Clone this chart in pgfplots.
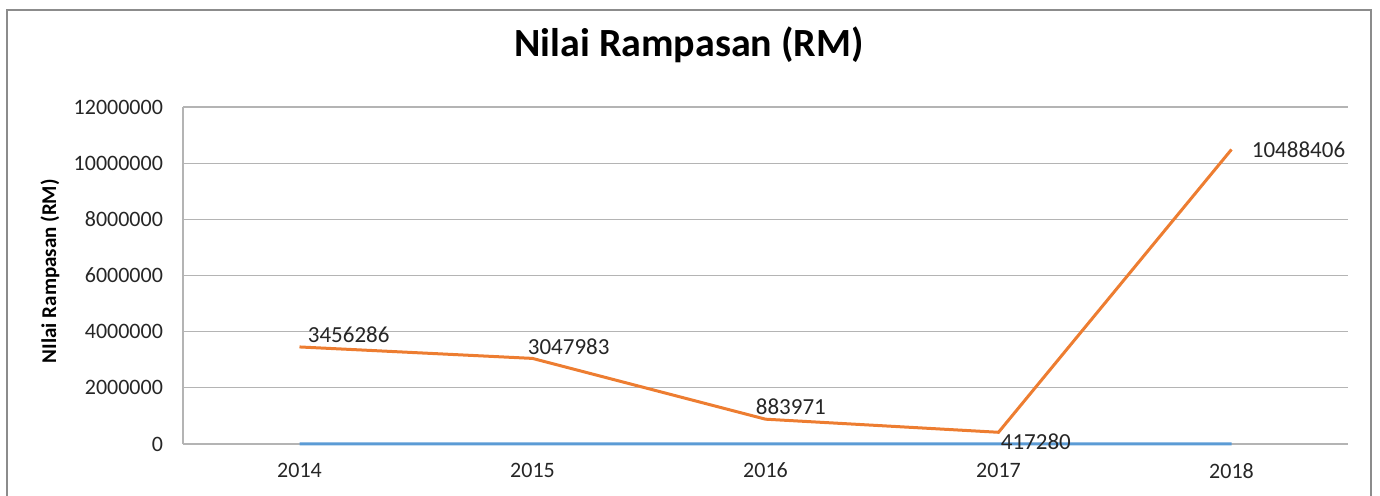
\documentclass[border=0pt]{standalone}
\usepackage{fontspec}
\setmainfont{Carlito}
\usepackage{pgfplots}
\pgfplotsset{compat=1.18}
\definecolor{xlorange}{HTML}{ED7D31}
\definecolor{xlblue}{HTML}{5B9BD5}
\definecolor{gridc}{HTML}{B4B4B4}
\definecolor{borderc}{HTML}{8C8C8C}
\begin{document}
\begin{tikzpicture}[x=1pt,y=1pt]
\useasboundingbox (0,0) rectangle (690,247.5);
\draw[borderc, line width=0.6pt] (3.5,-20) rectangle (685.5,242.5);
\begin{axis}[
  at={(91.5pt,25.5pt)}, anchor=south west,
  width=582.5pt, height=168.5pt, scale only axis,
  xmin=-0.5, xmax=4.5, ymin=0, ymax=12000000,
  xtick={0,1,2,3,4}, xticklabels={2014,2015,2016,2017,2018},
  ytick={0,2000000,4000000,6000000,8000000,10000000,12000000},
  yticklabels={0,2000000,4000000,6000000,8000000,10000000,12000000},
  scaled y ticks=false,
  axis x line*=bottom, axis y line*=left,
  axis line style={gridc, line width=0.6pt},
  x axis line style={draw=none},
  major tick length=0pt,
  ymajorgrids, grid style={gridc, line width=0.6pt},
  ticklabel style={font=\fontsize{11}{13}\selectfont, text=black!85},
  yticklabel style={xshift=-6.5pt},
  xticklabel style={yshift=-6pt},
  title={\textbf{Nilai Rampasan (RM)}},
  title style={at={(axis description cs:0.4343,1)}, anchor=center, yshift=25pt, font=\fontsize{20}{24}\selectfont},
  ylabel={\textbf{NIlai Rampasan (RM)}},
  ylabel style={at={(axis description cs:-0.1142,0.513)}, anchor=center, font=\fontsize{10.5}{12}\selectfont},
  clip=false,
]
\addplot[xlblue, line width=1.5pt] coordinates {(0,2014) (1,2015) (2,2016) (3,2017) (4,2018)};
\addplot[xlorange, line width=1.5pt] coordinates {(0,3456286) (1,3047983) (2,883971) (3,417280) (4,10488406)};
\begin{scope}[every node/.style={anchor=west, inner sep=0pt, font=\fontsize{11.5}{13}\selectfont, text=black!85}]
\node[xshift=4pt, yshift=6.25pt] at (axis cs:0,3456286) {3456286};
\node[xshift=-2.5pt, yshift=6pt] at (axis cs:1,3047983) {3047983};
\node[xshift=-5pt, yshift=6pt] at (axis cs:2,883971) {883971};
\node[xshift=1pt, yshift=-4.5pt] at (axis cs:3,417280) {417280};
\node[xshift=10pt, yshift=0pt] at (axis cs:4,10488406) {10488406};
\end{scope}
\end{axis}
\end{tikzpicture}
\end{document}
